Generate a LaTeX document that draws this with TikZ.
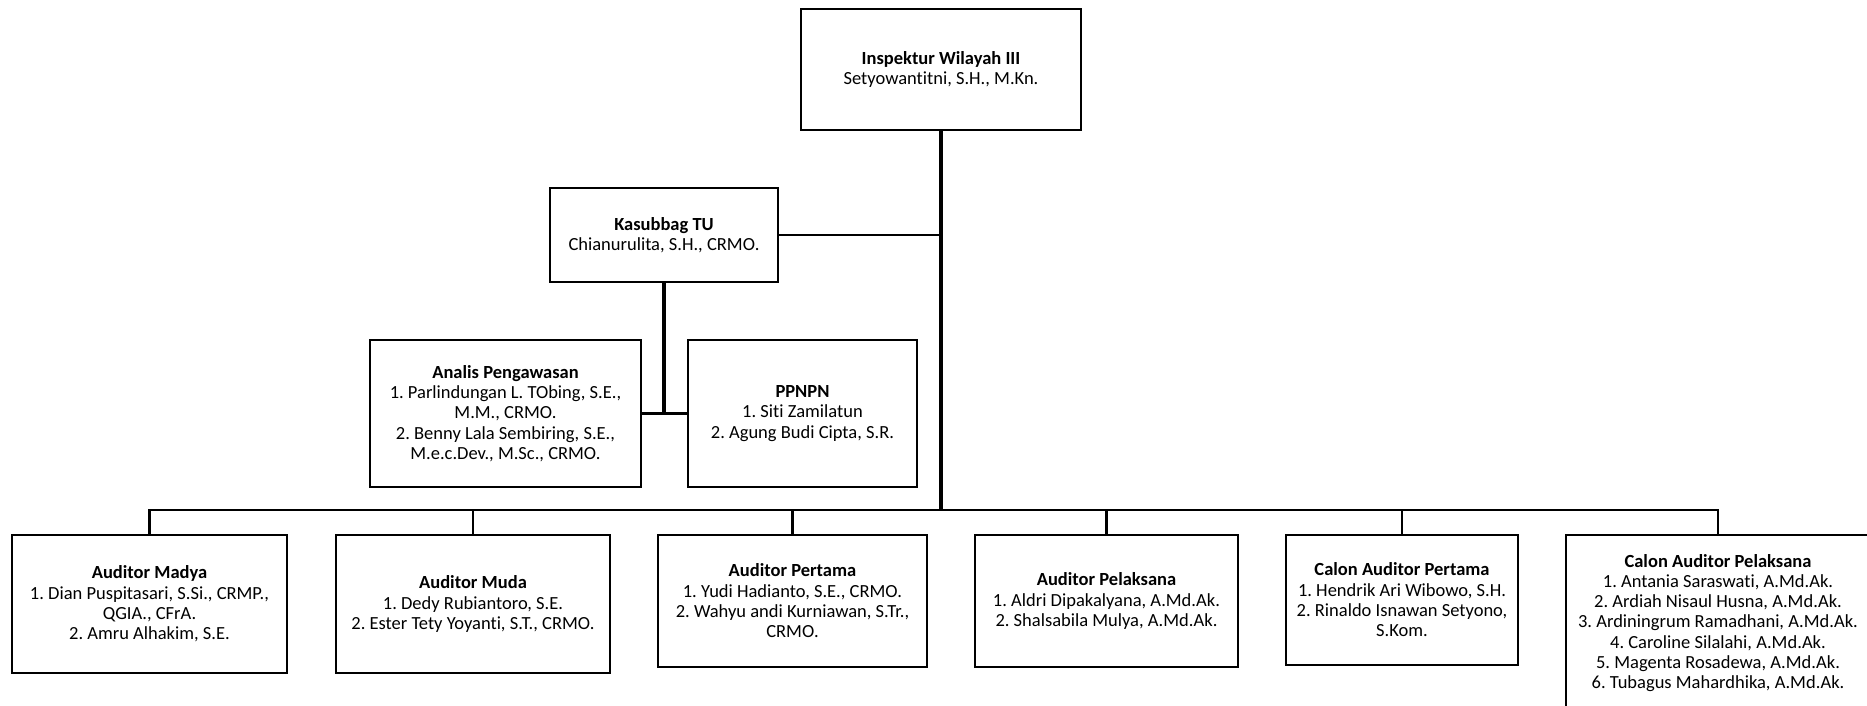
\documentclass[tikz,border=0pt]{standalone}
\usepackage{fontspec}
\setmainfont{Carlito}[Ligatures=NoCommon]
\usepackage{tikz}
\usetikzlibrary{positioning}
\frenchspacing

\begin{document}
\begin{tikzpicture}[
        x=1pt, y=-1pt,
        kotak/.style={draw=black, line width=2pt, align=center, inner sep=3pt,
            font=\fontsize{18.5}{20.3}\selectfont},
        garis/.style={draw=black, line width=2.2pt, line cap=rect},
        batang/.style={draw=black, line width=3.2pt}
    ]
        \useasboundingbox (0,0) rectangle (1867,705);
        \clip (0,0) rectangle (1867,705);

        \node[kotak, minimum width=280pt, minimum height=121pt] (inspektur) at (941,69.5)
            {\textbf{Inspektur Wilayah III}\\Setyowantitni, S.H., M.Kn.};
        \node[kotak, minimum width=228pt, minimum height=94pt] (kasubbag) at (664,235)
            {\textbf{Kasubbag TU}\\Chianurulita, S.H., CRMO.};
        \node[kotak, minimum width=271pt, minimum height=147pt] (analis) at (505.5,413.5)
            {\textbf{Analis Pengawasan}\\1. Parlindungan L. TObing, S.E.,\\M.M., CRMO.\\2. Benny Lala Sembiring, S.E.,\\M.e.c.Dev., M.Sc., CRMO.};
        \node[kotak, minimum width=229pt, minimum height=147pt, right=45pt of analis] (ppnpn)
            {\textbf{PPNPN}\\1. Siti Zamilatun\\2. Agung Budi Cipta, S.R.};

        \node[kotak, anchor=north, minimum width=275pt, minimum height=138pt] (madya) at (149.5,534)
            {\textbf{Auditor Madya}\\1. Dian Puspitasari, S.Si., CRMP.,\\QGIA., CFrA.\\2. Amru Alhakim, S.E.};
        \node[kotak, anchor=north, minimum width=274pt, minimum height=138pt] (muda) at (473,534)
            {\textbf{Auditor Muda}\\1. Dedy Rubiantoro, S.E.\\2. Ester Tety Yoyanti, S.T., CRMO.};
        \node[kotak, anchor=north, minimum width=269pt, minimum height=132pt] (pertama) at (792.5,534)
            {\textbf{Auditor Pertama}\\1. Yudi Hadianto, S.E., CRMO.\\2. Wahyu andi Kurniawan, S.Tr.,\\CRMO.};
        \node[kotak, anchor=north, minimum width=263pt, minimum height=132pt] (pelaksana) at (1106.5,534)
            {\textbf{Auditor Pelaksana}\\1. Aldri Dipakalyana, A.Md.Ak.\\2. Shalsabila Mulya, A.Md.Ak.};
        \node[kotak, anchor=north, minimum width=232pt, minimum height=130pt] (calonpertama) at (1402,534)
            {\textbf{Calon Auditor Pertama}\\1. Hendrik Ari Wibowo, S.H.\\2. Rinaldo Isnawan Setyono,\\S.Kom.};
        \node[kotak, anchor=north, minimum width=304pt, minimum height=176pt] (calonpelaksana) at (1718,534)
            {\textbf{Calon Auditor Pelaksana}\\1. Antania Saraswati, A.Md.Ak.\\2. Ardiah Nisaul Husna, A.Md.Ak.\\3. Ardiningrum Ramadhani, A.Md.Ak.\\4. Caroline Silalahi, A.Md.Ak.\\5. Magenta Rosadewa, A.Md.Ak.\\6. Tubagus Mahardhika, A.Md.Ak.};

        \coordinate (bus) at (941,510);
        \draw[batang] (inspektur.south) -- (inspektur.south |- bus);
        \draw[garis] (kasubbag.east) -- (kasubbag.east -| inspektur.south);
        \draw[batang] (kasubbag.south) -- (kasubbag.south |- analis.east);
        \draw[garis] (analis.east) -- (ppnpn.west);
        \draw[garis] (madya.north |- bus) -- (calonpelaksana.north |- bus);
        \draw[garis] (madya.north) -- (madya.north |- bus);
        \draw[garis] (muda.north) -- (muda.north |- bus);
        \draw[garis] (pertama.north) -- (pertama.north |- bus);
        \draw[garis] (pelaksana.north) -- (pelaksana.north |- bus);
        \draw[garis] (calonpertama.north) -- (calonpertama.north |- bus);
        \draw[garis] (calonpelaksana.north) -- (calonpelaksana.north |- bus);
    \end{tikzpicture}
\end{document}
